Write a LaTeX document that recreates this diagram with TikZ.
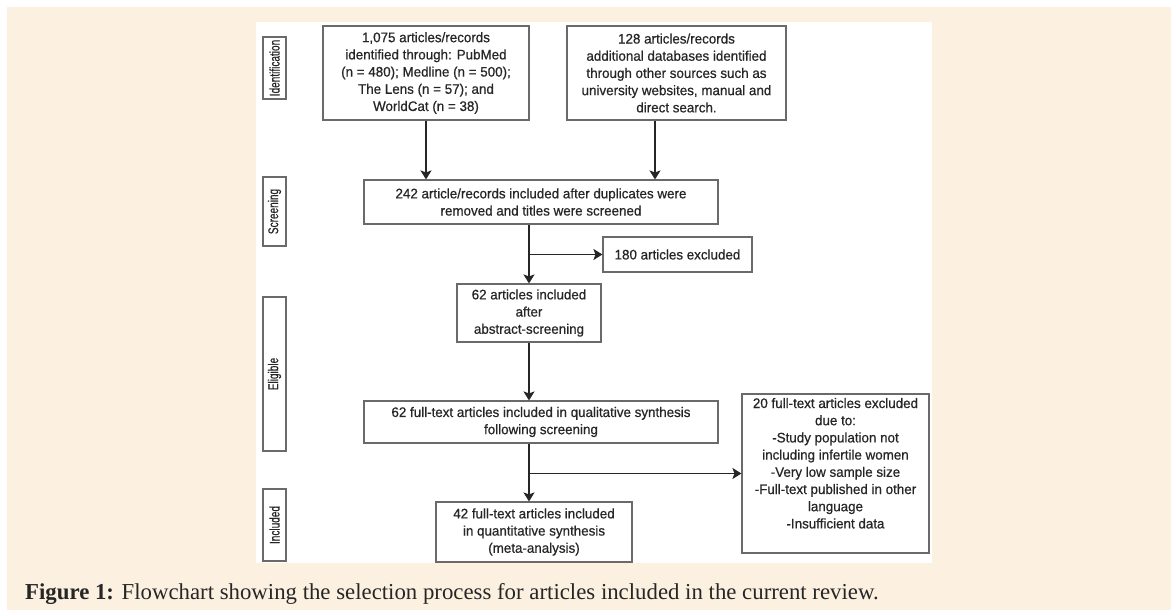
\documentclass[tikz,border=0pt]{standalone}
\usepackage{fontspec}
\setmainfont{Liberation Sans}
\newfontfamily\boxfont[FakeBold=0.6,FakeStretch=0.97]{Liberation Sans}
\newfontfamily\capfont{Liberation Serif}
\usetikzlibrary{arrows.meta}
\definecolor{cream}{HTML}{FCF1E0}
\definecolor{ink}{HTML}{262626}
\definecolor{frame}{HTML}{6A6A6A}
\begin{document}
\begin{tikzpicture}[x=1pt,y=-1pt,
  box/.style={draw=frame, line width=1.1pt, fill=white, text=ink, align=center, inner sep=0pt,
    font=\boxfont\fontsize{13.8}{17.2}\selectfont},
  side/.style={draw=frame, line width=1.1pt, text=ink, inner sep=0pt, rotate=90,
    font=\boxfont\fontsize{14}{16}\selectfont},
  arr/.style={draw=ink, line width=1.4pt, -{Stealth[length=9pt,width=11pt,inset=2pt]}},
  ln/.style={draw=ink, line width=1.4pt}]
\useasboundingbox (0,0) rectangle (1171,610);
\fill[white] (0,0) rectangle (1171,610);
\fill[cream] (7,7) rectangle (1171,610);
\fill[white] (256,22) rectangle (932,563);

% side labels
\node[side, minimum width=62pt, minimum height=23pt] (sid) at (274.5,68) {\scalebox{0.74}[1]{Identification}};
\node[side, minimum width=69pt, minimum height=23pt] (ssc) at (274.5,211.5) {\scalebox{0.74}[1]{Screening}};
\node[side, minimum width=154pt, minimum height=23pt] (sel) at (274.5,374) {\scalebox{0.74}[1]{Eligible}};
\node[side, minimum width=72pt, minimum height=23pt] (sin) at (274.5,525) {\scalebox{0.74}[1]{Included}};

% boxes
\node[box, minimum width=206pt, minimum height=94pt] (b1) at (426,73)
  {1,075 articles/records\\identified through: PubMed\\(n = 480); Medline (n = 500);\\The Lens (n = 57); and\\WorldCat (n = 38)};
\node[box, minimum width=219pt, minimum height=94pt] (b2) at (676.5,73)
  {128 articles/records\\additional databases identified\\through other sources such as\\university websites, manual and\\direct search.};
\node[box, minimum width=354pt, minimum height=44pt] (b3) at (541,202)
  {242 article/records included after duplicates were\\removed and titles were screened};
\node[box, minimum width=149pt, minimum height=35pt] (b4) at (677.5,254.5)
  {180 articles excluded};
\node[box, minimum width=144pt, minimum height=58pt] (b5) at (529,313)
  {62 articles included\\after\\abstract-screening};
\node[box, minimum width=354pt, minimum height=42pt] (b6) at (541,422)
  {62 full-text articles included in qualitative synthesis\\following screening};
\node[box, minimum width=187pt, minimum height=159pt] (b7) at (835.5,473.5)
  {\parbox[c][151pt][t]{185pt}{\centering 20 full-text articles excluded\\due to:\\-Study population not\\including infertile women\\-Very low sample size\\-Full-text published in other\\language\\-Insufficient data}};
\node[box, minimum width=196pt, minimum height=60pt] (b8) at (534,532)
  {42 full-text articles included\\in quantitative synthesis\\(meta-analysis)};

% connectors
\draw[arr] (b1.south) -- (b1.south |- b3.north);
\draw[arr] ([xshift=-21.5pt]b2.south) -- ([xshift=-21.5pt]b2.south |- b3.north);
\draw[arr] (b3.south -| b5.north) -- (b5.north);
\draw[arr] (b5.north |- b4.west) -- (b4.west);
\draw[arr] (b5.south) -- (b5.south |- b6.north);
\draw[arr] (b5.south |- b6.south) -- (b5.south |- b8.north);
\draw[arr] (b5.south |- b7.west) -- (b7.west);

% caption
\node[anchor=base west, inner sep=0pt, text=ink, font=\capfont\fontsize{22.8}{26}\selectfont] (cap) at (25,599)
  {\textbf{Figure 1:} Flowchart showing the selection process for articles included in the current review.};
\end{tikzpicture}
\end{document}
